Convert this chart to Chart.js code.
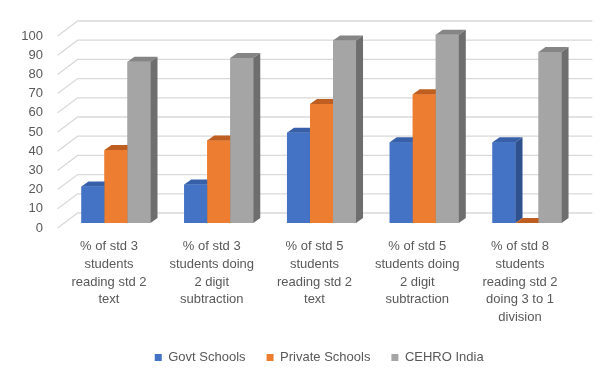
<!DOCTYPE html>
<html>
<head>
<meta charset="utf-8">
<script src="https://cdn.jsdelivr.net/npm/chart.js@4"></script>
<style>
  html, body { margin: 0; padding: 0; background: #ffffff; }
  #wrap { width: 602px; height: 372px; position: relative; }
</style>
</head>
<body>
<div id="wrap"><canvas id="c" width="602" height="372"></canvas></div>
<script>
const categories = [
  ["% of std 3", "students", "reading std 2", "text"],
  ["% of std 3", "students doing", "2 digit", "subtraction"],
  ["% of std 5", "students", "reading std 2", "text"],
  ["% of std 5", "students doing", "2 digit", "subtraction"],
  ["% of std 8", "students", "reading std 2", "doing 3 to 1", "division"]
];
const seriesNames = ["Govt Schools", "Private Schools", "CEHRO India"];
const govtSchools = [19, 20, 47, 42, 42];
const privateSchools = [38, 43, 62, 67, 0];
const cehroIndia = [84, 86, 95, 98, 89];
const yTicks = [0, 10, 20, 30, 40, 50, 60, 70, 80, 90, 100];

const frontColors = ["#4472C4", "#ED7D31", "#A5A5A5"];
const topColors = ["#3760A8", "#BE5F21", "#858585"];
const sideColors = ["#2F528F", "#A9551F", "#6E6E6E"];
const DX = 7, DY = -5;       // bar depth offset
const WX = 20, WY = -15;     // floor front edge -> back wall offset

const FONT = "'Liberation Sans', Arial, sans-serif";
const TEXT = "#595959";

function poly(ctx, pts, color) {
  ctx.beginPath();
  ctx.moveTo(pts[0][0], pts[0][1]);
  for (let k = 1; k < pts.length; k++) ctx.lineTo(pts[k][0], pts[k][1]);
  ctx.closePath();
  ctx.fillStyle = color;
  ctx.fill();
}

const wallPlugin = {
  id: 'wall',
  afterLayout(chart) {
    if (chart.legend) { chart.legend.left += 30; chart.legend.right += 30; }
  },
  beforeDatasetsDraw(chart) {
    const ctx = chart.ctx, ys = chart.scales.y, ca = chart.chartArea;
    ctx.save();
    ctx.strokeStyle = "#D9D9D9";
    ctx.lineWidth = 1.3;
    yTicks.forEach(v => {
      const yy = ys.getPixelForValue(v);
      const fx = ca.left - DX, fy = yy - DY;
      const wx = fx + WX, wy = fy + WY;
      ctx.beginPath();
      ctx.moveTo(fx, fy);
      ctx.lineTo(wx, wy);
      ctx.lineTo(ca.right + (WX - DX) + 1, wy);
      ctx.stroke();
    });
    ctx.restore();
  },
  afterDatasetsDraw(chart) {
    const ctx = chart.ctx;
    const n = chart.data.labels.length;
    const metas = chart.data.datasets.map((d, i) => chart.getDatasetMeta(i));
    ctx.save();
    for (let i = 0; i < n; i++) {
      for (let d = 0; d < metas.length; d++) {
        const el = metas[d].data[i];
        if (!el) continue;
        const p = el.getProps(['x', 'y', 'base', 'width'], true);
        const l = p.x - p.width / 2, r = p.x + p.width / 2;
        const top = Math.min(p.y, p.base), base = Math.max(p.y, p.base);
        ctx.fillStyle = frontColors[d];
        ctx.fillRect(l, top, p.width, base - top);
        poly(ctx, [[l, top], [r, top], [r + DX, top + DY], [l + DX, top + DY]], topColors[d]);
        poly(ctx, [[r, top], [r + DX, top + DY], [r + DX, base + DY], [r, base]], sideColors[d]);
      }
    }
    ctx.restore();
  }
};

const ctx = document.getElementById('c').getContext('2d');
new Chart(ctx, {
  type: 'bar',
  data: {
    labels: categories,
    datasets: [
      { label: seriesNames[0], data: govtSchools, backgroundColor: frontColors[0] },
      { label: seriesNames[1], data: privateSchools, backgroundColor: frontColors[1] },
      { label: seriesNames[2], data: cehroIndia, backgroundColor: frontColors[2] }
    ]
  },
  options: {
    responsive: false,
    animation: false,
    events: [],
    layout: { padding: { top: 31, right: 23.6, left: 0, bottom: -2 } },
    datasets: { bar: { barPercentage: 1, categoryPercentage: 0.672, borderWidth: 0 } },
    plugins: {
      tooltip: { enabled: false },
      legend: {
        position: 'bottom',
        labels: {
          boxWidth: 7, boxHeight: 7, padding: 21,
          color: TEXT, font: { family: FONT, size: 13 }
        }
      }
    },
    scales: {
      x: {
        grid: { display: false, drawTicks: false },
        border: { display: false },
        ticks: {
          color: TEXT, font: { family: FONT, size: 13, lineHeight: 1.36 },
          padding: 15, labelOffset: -DX, maxRotation: 0, autoSkip: false
        },
        afterFit(scale) { scale.height = 107; }
      },
      y: {
        min: 0, max: 100,
        grid: { display: false, drawTicks: false },
        border: { display: false },
        ticks: {
          stepSize: 10, color: TEXT, font: { family: FONT, size: 13 },
          padding: 21.6, labelOffset: -DY, autoSkip: false
        },
        afterBuildTicks(scale) { scale.ticks = yTicks.map(v => ({ value: v })); },
        afterFit(scale) { scale.width = 64.6; }
      }
    }
  },
  plugins: [wallPlugin]
});
</script>
</body>
</html>
